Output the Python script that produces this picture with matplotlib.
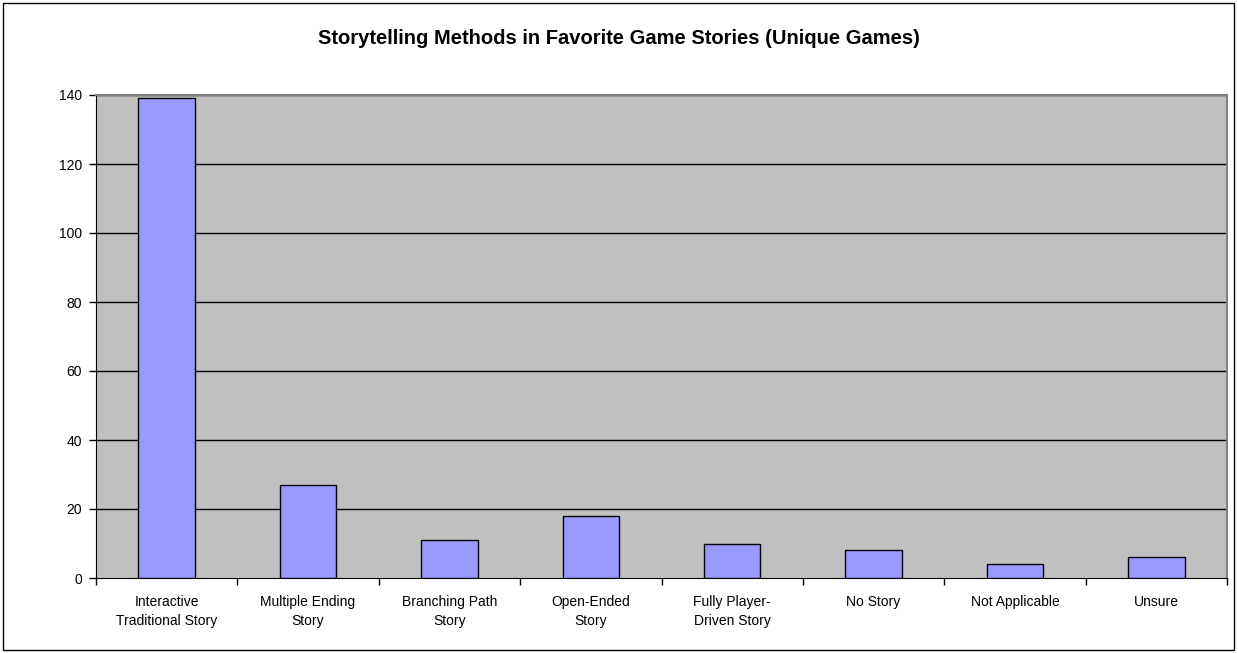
import matplotlib
matplotlib.use("Agg")
import matplotlib.pyplot as plt
from matplotlib.patches import Rectangle

categories = ["Interactive\nTraditional Story", "Multiple Ending\nStory", "Branching Path\nStory",
              "Open-Ended\nStory", "Fully Player-\nDriven Story", "No Story", "Not Applicable", "Unsure"]
values = [139, 27, 11, 18, 10, 8, 4, 6]
yticks = [0, 20, 40, 60, 80, 100, 120, 140]
title = "Storytelling Methods in Favorite Game Stories (Unique Games)"

plt.rcParams['font.family'] = ['Liberation Sans', 'DejaVu Sans']

fig = plt.figure(figsize=(12.38, 6.53), dpi=100)
fig.patches.append(Rectangle((3/1238, 3/653), 1231/1238, 647/653, transform=fig.transFigure,
                             fill=False, edgecolor='black', linewidth=1.0))

L, R, T, B = 96, 1227, 95, 578
ax = fig.add_axes([L/1238, 1 - B/653, (R - L)/1238, (B - T)/653])
ax.set_facecolor('#c0c0c0')
x = list(range(len(categories)))
ax.bar(x, values, width=0.4, color='#9999ff', edgecolor='black', linewidth=1.0, zorder=3)
ax.set_xlim(-0.5, len(categories) - 0.5)
ax.set_ylim(0, 140)
ax.set_yticks(yticks)
ax.set_yticklabels([str(v) for v in yticks], fontsize=10)
for v in yticks[1:]:
    ax.axhline(v, color='black', linewidth=1.0, zorder=1)

ax.set_xticks([i - 0.5 for i in range(len(categories) + 1)])
ax.set_xticklabels([])
ax.set_xticks(x, minor=True)
ax.set_xticklabels(categories, minor=True, fontsize=10, linespacing=1.45)
ax.tick_params(axis='x', which='minor', length=0, pad=12)
ax.tick_params(axis='x', which='major', length=5, direction='out', width=1)
ax.tick_params(axis='y', length=5, direction='out', width=1, pad=5)

for s in ['top', 'right']:
    ax.spines[s].set_color('#808080')
    ax.spines[s].set_linewidth(1.5)
ax.spines['left'].set_color('black')
ax.spines['bottom'].set_color('black')

fig.text(0.5, 1 - 38/653, title, ha='center', va='center',
         fontsize=14.5, fontweight='bold')

fig.savefig("out.png", dpi=100)
